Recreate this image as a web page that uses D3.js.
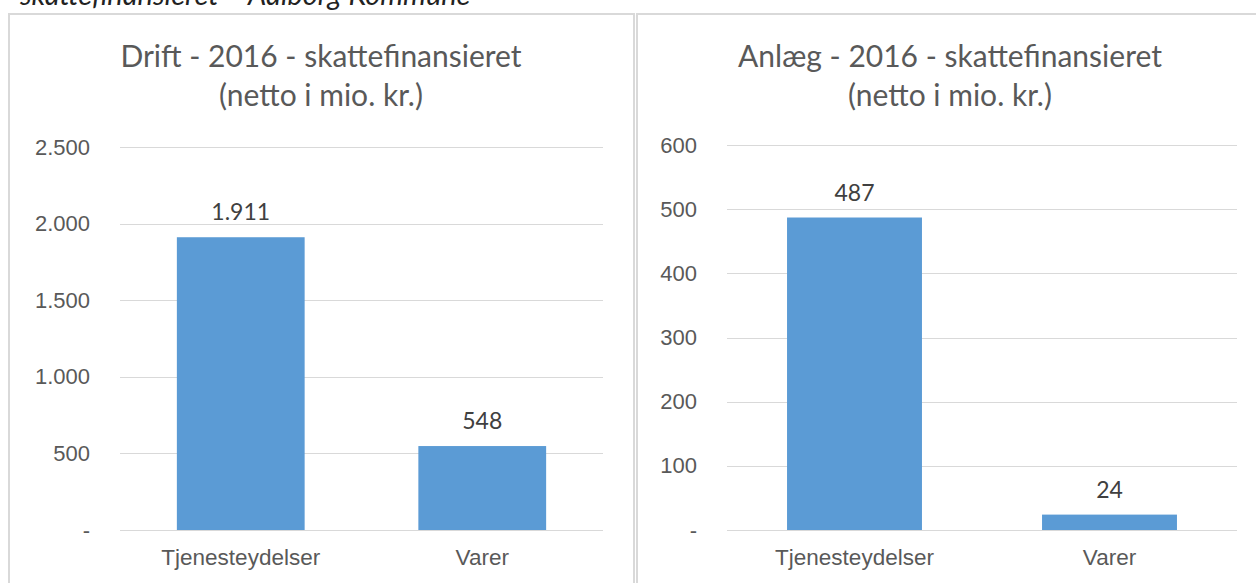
<!DOCTYPE html>
<html lang="da">
<head>
    <meta charset="UTF-8">
    <title>Drift og anlæg 2016</title>
    <script src="https://d3js.org/d3.v7.min.js"></script>
    <style>
        body {
            margin: 0;
            background-color: white;
            font-family: Lato, 'Open Sans', sans-serif;
        }
        .axis text {
            fill: #595959;
        }
        .axis .tick line {
            stroke: #d9d9d9;
            shape-rendering: crispEdges;
        }
        .axis path {
            display: none;
        }
    </style>
</head>
<body>
    <svg id="chart" width="1256" height="583"></svg>

    <script>
        // Data
        const categories = ["Tjenesteydelser", "Varer"];
        const driftValues = [1911, 548];
        const anlaegValues = [487, 24];
        const driftTicks = [0, 500, 1000, 1500, 2000, 2500];
        const anlaegTicks = [0, 100, 200, 300, 400, 500, 600];

        // Danish number format: "." as thousands separator, zero shown as "-"
        const da = d3.formatLocale({ decimal: ",", thousands: ".", grouping: [3], currency: ["", " kr."] });
        const fmt = v => v === 0 ? "-" : da.format(",d")(v);

        const svg = d3.select("#chart");

        // Caption cut off at the top of the picture (as in the reference)
        svg.append("text")
            .attr("x", 20)
            .attr("y", 5)
            .style("font-style", "italic")
            .style("font-size", "29px")
            .style("fill", "#222")
            .text("skattefinansieret – Aalborg Kommune");

        function drawChart(cfg) {
            const g = svg.append("g");

            // panel frame
            g.append("rect")
                .attr("x", cfg.frame[0])
                .attr("y", 14)
                .attr("width", cfg.frame[1] - cfg.frame[0])
                .attr("height", 600)
                .attr("fill", "white")
                .attr("stroke", "#d9d9d9")
                .attr("stroke-width", 2);

            // title
            const title = g.append("text")
                .attr("text-anchor", "middle")
                .style("font-size", "30px")
                .style("fill", "#595959");
            title.append("tspan").attr("x", cfg.titleX).attr("y", 67).text(cfg.title);
            title.append("tspan").attr("x", cfg.titleX).attr("y", 106).text("(netto i mio. kr.)");

            const y = d3.scaleLinear()
                .domain([0, d3.max(cfg.ticks)])
                .range([530, cfg.top]);

            const x = d3.scaleBand()
                .domain(categories)
                .range([cfg.left, cfg.right])
                .padding(0);

            // bar width like Excel gap width 89%
            const barW = x.bandwidth() / 1.89;

            g.append("g")
                .attr("class", "axis")
                .attr("transform", `translate(${cfg.left},0)`)
                .call(d3.axisLeft(y)
                    .tickValues(cfg.ticks)
                    .tickFormat(fmt)
                    .tickSize(-(cfg.right - cfg.left))
                    .tickPadding(30))
                .selectAll("text")
                .style("font-size", "22px");

            g.selectAll(".bar")
                .data(cfg.values)
                .enter()
                .append("rect")
                .attr("class", "bar")
                .attr("x", (d, i) => x(categories[i]) + (x.bandwidth() - barW) / 2)
                .attr("y", d => y(d))
                .attr("width", barW)
                .attr("height", d => y(0) - y(d))
                .attr("fill", "#5b9bd5");

            g.selectAll(".label")
                .data(cfg.values)
                .enter()
                .append("text")
                .attr("class", "label")
                .attr("x", (d, i) => x(categories[i]) + x.bandwidth() / 2)
                .attr("y", d => y(d) - 17)
                .attr("text-anchor", "middle")
                .style("font-size", "23px")
                .style("fill", "#404040")
                .text(fmt);

            g.append("g")
                .attr("class", "axis")
                .attr("transform", "translate(0,530)")
                .call(d3.axisBottom(x).tickSize(0).tickPadding(19))
                .selectAll("text")
                .style("font-size", "22.5px");
        }

        drawChart({
            frame: [9, 634],
            title: "Drift - 2016 - skattefinansieret",
            titleX: 321,
            values: driftValues,
            ticks: driftTicks,
            left: 120,
            right: 603,
            top: 147
        });

        drawChart({
            frame: [637, 1262],
            title: "Anlæg - 2016 - skattefinansieret",
            titleX: 950,
            values: anlaegValues,
            ticks: anlaegTicks,
            left: 727,
            right: 1237,
            top: 145
        });
    </script>
</body>
</html>
